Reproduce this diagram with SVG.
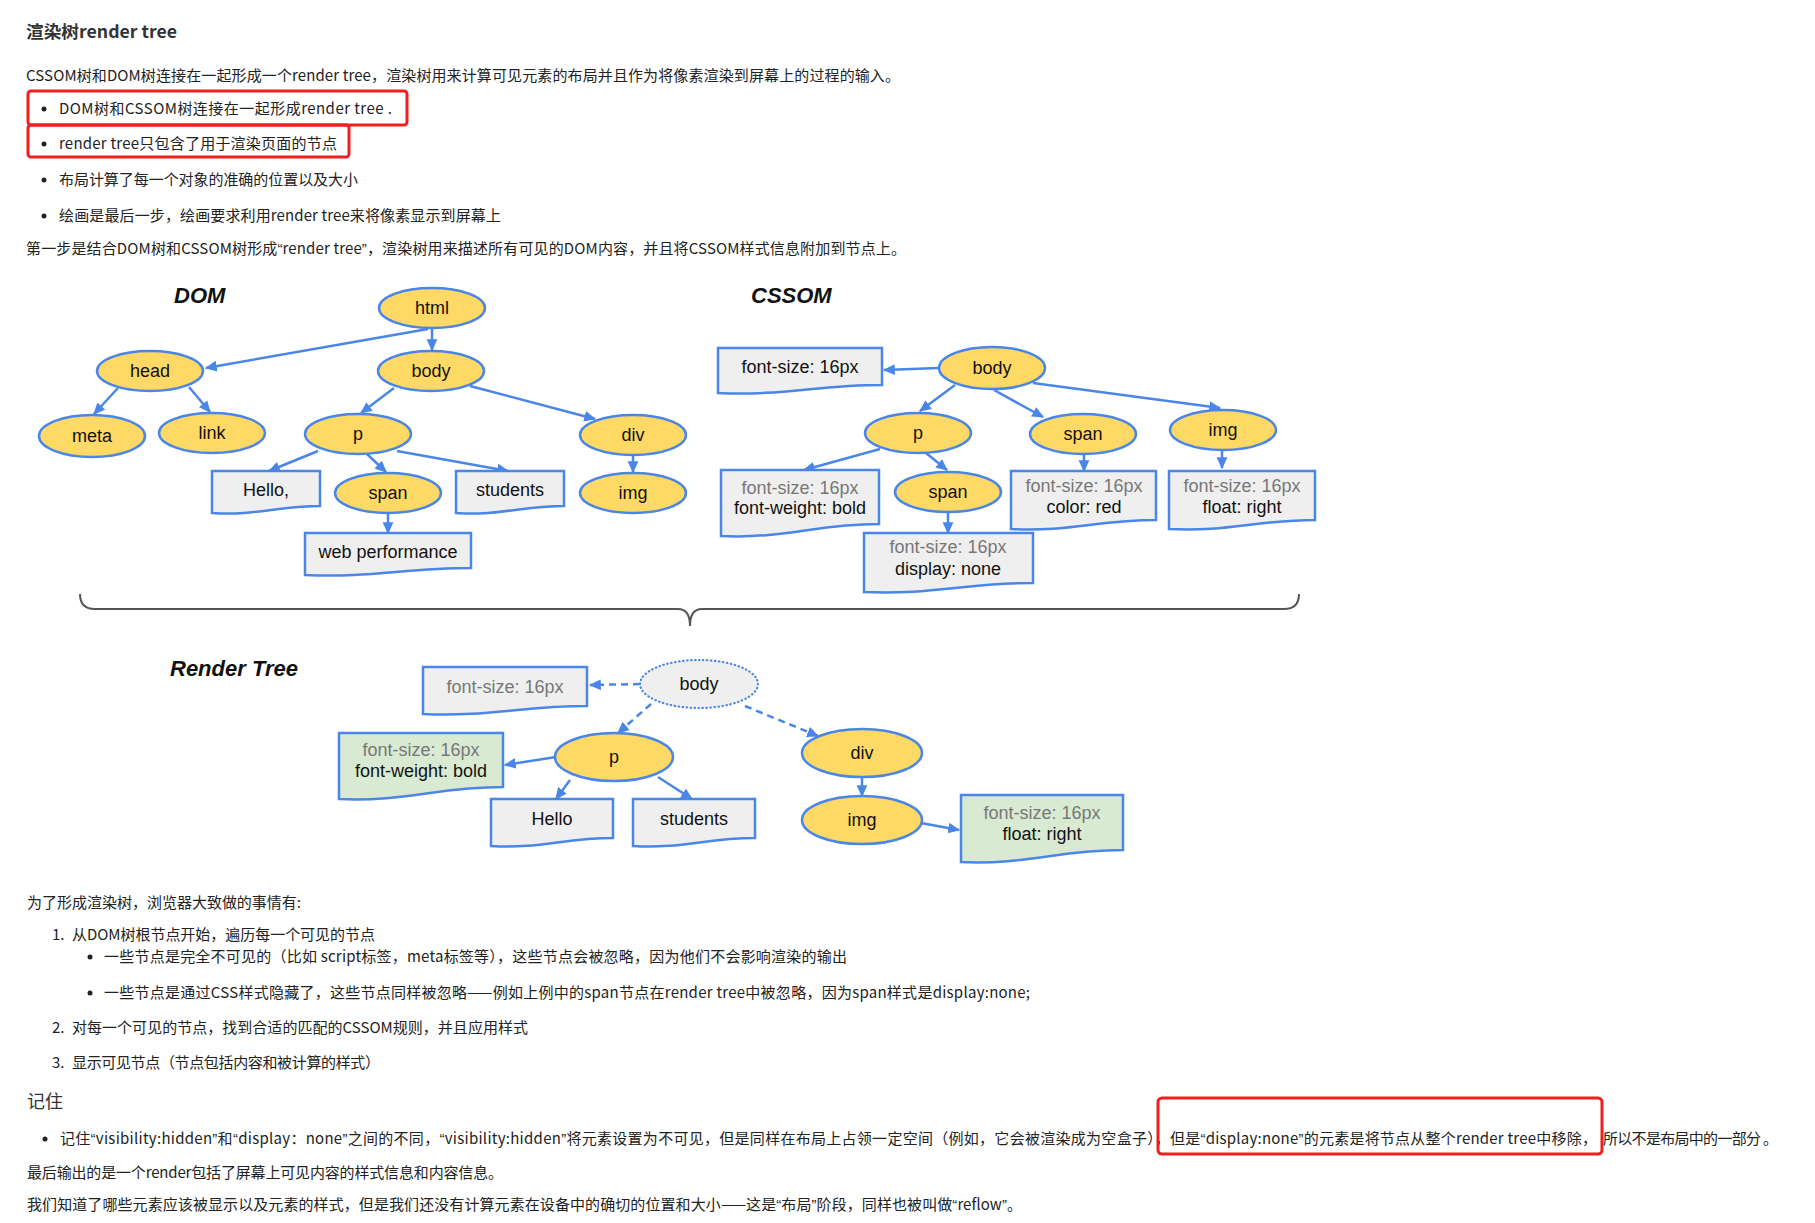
<svg xmlns="http://www.w3.org/2000/svg" width="1815" height="1223" viewBox="0 0 1815 1223">
<style>
.t{font-family:"Noto Sans CJK SC","Liberation Sans",sans-serif;font-size:15px;fill:#222}
.q{font-family:"Liberation Sans",sans-serif}
.h{font-family:"Noto Sans CJK SC",sans-serif;font-size:17px;font-weight:bold;fill:#333}
.h2{font-family:"Noto Sans CJK SC",sans-serif;font-size:18px;fill:#333}
.lbl{font-family:"Liberation Sans",Arial,sans-serif;font-size:18px;fill:#111;text-anchor:middle}
.g{fill:#777}
.ttl{font-family:"Liberation Sans",Arial,sans-serif;font-size:22px;font-weight:bold;font-style:italic;fill:#111}
.ell{fill:#ffd966;stroke:#4a86e8;stroke-width:2.5}
.dot{fill:#efefef;stroke:#4a86e8;stroke-width:2.2;stroke-dasharray:0.5,3.5;stroke-linecap:round}
.doc{fill:#efefef;stroke:#4a86e8;stroke-width:2.5}
.docg{fill:#d9ead3;stroke:#4a86e8;stroke-width:2.5}
.e{stroke:#4a86e8;stroke-width:2.5;fill:none;marker-end:url(#ah)}
.d{stroke-dasharray:7,5}
.red{fill:none;stroke:#ee1f1f;stroke-width:3}
.bul{fill:#222}
</style>
<defs>
<marker id="ah" viewBox="0 0 10 10" refX="9" refY="5" markerWidth="12" markerHeight="12" markerUnits="userSpaceOnUse" orient="auto"><path d="M0,0.5 L10,5 L0,9.5 z" fill="#4a86e8"/></marker>
</defs>
<rect width="1815" height="1223" fill="#fff"/>

<g id="text-top">
<text class="h" x="26" y="38" textLength="151" lengthAdjust="spacingAndGlyphs">渲染树render tree</text>
<text class="t" x="26" y="81" textLength="874">CSSOM树和DOM树连接在一起形成一个render tree，渲染树用来计算可见元素的布局并且作为将像素渲染到屏幕上的过程的输入。</text>
<circle class="bul" cx="44" cy="109" r="2.5"/>
<text class="t" x="59" y="114" textLength="333">DOM树和CSSOM树连接在一起形成render tree .</text>
<circle class="bul" cx="44" cy="144" r="2.5"/>
<text class="t" x="59" y="149" textLength="278">render tree只包含了用于渲染页面的节点</text>
<circle class="bul" cx="44" cy="180" r="2.5"/>
<text class="t" x="59" y="185" textLength="299">布局计算了每一个对象的准确的位置以及大小</text>
<circle class="bul" cx="44" cy="216" r="2.5"/>
<text class="t" x="59" y="221" textLength="442">绘画是最后一步，绘画要求利用render tree来将像素显示到屏幕上</text>
<text class="t" x="26" y="254" textLength="880">第一步是结合DOM树和CSSOM树形成<tspan class="q">“</tspan>render tree<tspan class="q">”</tspan>，渲染树用来描述所有可见的DOM内容，并且将CSSOM样式信息附加到节点上。</text>
<rect class="red" x="28" y="91" width="379" height="34" rx="3"/>
<rect class="red" x="28" y="125" width="321" height="32" rx="3"/>
</g>

<g id="labels">
<text class="ttl" x="174" y="303">DOM</text>
<text class="ttl" x="751" y="303">CSSOM</text>
<text class="ttl" x="170" y="676">Render Tree</text>
</g>

<g id="connectors">
<path class="e" d="M428,329 L206,368"/>
<path class="e" d="M432,329 L432,350"/>
<path class="e" d="M118,388 L94,414"/>
<path class="e" d="M189,387 L210,412"/>
<path class="e" d="M394,388 L361,413"/>
<path class="e" d="M470,386 L595,419"/>
<path class="e" d="M318,451 L269,471"/>
<path class="e" d="M367,454 L386,472"/>
<path class="e" d="M397,451 L508,471"/>
<path class="e" d="M633,456 L633,472"/>
<path class="e" d="M388,514 L388,533"/>
<path class="e" d="M939,368 L884,370"/>
<path class="e" d="M955,385 L920,411"/>
<path class="e" d="M994,390 L1043,417"/>
<path class="e" d="M1033,383 L1220,408"/>
<path class="e" d="M880,449 L804,470"/>
<path class="e" d="M926,453 L947,470"/>
<path class="e" d="M1084,455 L1084,471"/>
<path class="e" d="M1222,451 L1222,468"/>
<path class="e" d="M948,513 L948,533"/>
<path class="e d" d="M640,684 L590,685"/>
<path class="e d" d="M651,704 L618,733"/>
<path class="e d" d="M745,706 L818,736"/>
<path class="e" d="M556,757 L505,765"/>
<path class="e" d="M570,780 L556,799"/>
<path class="e" d="M658,777 L692,799"/>
<path class="e" d="M862,777 L862,796"/>
<path class="e" d="M921,823 L959,830"/>
<path d="M80,594 Q80,609 95,609 H678 Q690,609 690,626 Q690,609 702,609 H1284 Q1299,609 1299,594" fill="none" stroke="#555" stroke-width="2"/>
</g>

<g id="dom-html"><ellipse class="ell" cx="432" cy="308" rx="53" ry="20"/><text class="lbl" x="432" y="314">html</text></g>
<g id="dom-head"><ellipse class="ell" cx="150" cy="371" rx="53" ry="20"/><text class="lbl" x="150" y="377">head</text></g>
<g id="dom-body"><ellipse class="ell" cx="431" cy="371" rx="53" ry="20"/><text class="lbl" x="431" y="377">body</text></g>
<g id="dom-meta"><ellipse class="ell" cx="92" cy="436" rx="53" ry="21"/><text class="lbl" x="92" y="442">meta</text></g>
<g id="dom-link"><ellipse class="ell" cx="212" cy="433" rx="53" ry="20"/><text class="lbl" x="212" y="439">link</text></g>
<g id="dom-p"><ellipse class="ell" cx="358" cy="434" rx="53" ry="20"/><text class="lbl" x="358" y="440">p</text></g>
<g id="dom-div"><ellipse class="ell" cx="633" cy="435" rx="53" ry="20"/><text class="lbl" x="633" y="441">div</text></g>
<g id="dom-span"><ellipse class="ell" cx="388" cy="493" rx="53" ry="20"/><text class="lbl" x="388" y="499">span</text></g>
<g id="dom-img"><ellipse class="ell" cx="633" cy="493" rx="53" ry="20"/><text class="lbl" x="633" y="499">img</text></g>
<g id="dom-hello"><path class="doc" d="M212,471 H320 V506 C277,506 255,516 212,513 Z"/><text class="lbl" x="266" y="496">Hello,</text></g>
<g id="dom-students"><path class="doc" d="M456,471 H564 V506 C521,506 499,516 456,513 Z"/><text class="lbl" x="510" y="496">students</text></g>
<g id="dom-webperf"><path class="doc" d="M305,533 H471 V568 C405,568 371,578 305,575 Z"/><text class="lbl" x="388" y="558">web performance</text></g>

<g id="css-fs"><path class="doc" d="M718,348 H882 V385 C817,385 783,396 718,393 Z"/><text class="lbl" x="800" y="373">font-size: 16px</text></g>
<g id="css-body"><ellipse class="ell" cx="992" cy="368" rx="53" ry="21"/><text class="lbl" x="992" y="374">body</text></g>
<g id="css-p"><ellipse class="ell" cx="918" cy="433" rx="53" ry="20"/><text class="lbl" x="918" y="439">p</text></g>
<g id="css-span"><ellipse class="ell" cx="1083" cy="434" rx="53" ry="20"/><text class="lbl" x="1083" y="440">span</text></g>
<g id="css-img"><ellipse class="ell" cx="1223" cy="430" rx="53" ry="20"/><text class="lbl" x="1223" y="436">img</text></g>
<g id="css-fw"><path class="doc" d="M721,470 H879 V524 C816,524 784,539 721,536 Z"/><text class="lbl g" x="800" y="494">font-size: 16px</text><text class="lbl" x="800" y="514">font-weight: bold</text></g>
<g id="css-span2"><ellipse class="ell" cx="948" cy="492" rx="53" ry="20"/><text class="lbl" x="948" y="498">span</text></g>
<g id="css-color"><path class="doc" d="M1011,471 H1156 V520 C1098,520 1069,532 1011,529 Z"/><text class="lbl g" x="1084" y="492">font-size: 16px</text><text class="lbl" x="1084" y="513">color: red</text></g>
<g id="css-float"><path class="doc" d="M1169,471 H1315 V520 C1257,520 1227,532 1169,529 Z"/><text class="lbl g" x="1242" y="492">font-size: 16px</text><text class="lbl" x="1242" y="513">float: right</text></g>
<g id="css-display"><path class="doc" d="M864,533 H1033 V583 C965,583 932,595 864,592 Z"/><text class="lbl g" x="948" y="553">font-size: 16px</text><text class="lbl" x="948" y="575">display: none</text></g>

<g id="rt-fs"><path class="doc" d="M423,667 H587 V706 C521,706 489,717 423,714 Z"/><text class="lbl g" x="505" y="693">font-size: 16px</text></g>
<g id="rt-body"><ellipse class="dot" cx="699" cy="684" rx="59" ry="24"/><text class="lbl" x="699" y="690">body</text></g>
<g id="rt-fw"><path class="docg" d="M339,733 H503 V787 C437,787 405,802 339,799 Z"/><text class="lbl g" x="421" y="756">font-size: 16px</text><text class="lbl" x="421" y="777">font-weight: bold</text></g>
<g id="rt-p"><ellipse class="ell" cx="614" cy="757" rx="59" ry="24"/><text class="lbl" x="614" y="763">p</text></g>
<g id="rt-div"><ellipse class="ell" cx="862" cy="753" rx="60" ry="24"/><text class="lbl" x="862" y="759">div</text></g>
<g id="rt-img"><ellipse class="ell" cx="862" cy="820" rx="60" ry="24"/><text class="lbl" x="862" y="826">img</text></g>
<g id="rt-hello"><path class="doc" d="M491,799 H613 V838 C564,838 540,849 491,846 Z"/><text class="lbl" x="552" y="825">Hello</text></g>
<g id="rt-students"><path class="doc" d="M633,799 H755 V838 C706,838 682,849 633,846 Z"/><text class="lbl" x="694" y="825">students</text></g>
<g id="rt-float"><path class="docg" d="M961,795 H1123 V850 C1058,850 1026,865 961,862 Z"/><text class="lbl g" x="1042" y="819">font-size: 16px</text><text class="lbl" x="1042" y="840">float: right</text></g>

<g id="text-bottom">
<text class="t" x="27" y="908" textLength="274">为了形成渲染树，浏览器大致做的事情有:</text>
<text class="t" x="52" y="940">1.</text>
<text class="t" x="72" y="940" textLength="303">从DOM树根节点开始，遍历每一个可见的节点</text>
<circle class="bul" cx="90" cy="957" r="2.5"/>
<text class="t" x="104" y="962" textLength="743">一些节点是完全不可见的（比如 script标签，meta标签等），这些节点会被忽略，因为他们不会影响渲染的输出</text>
<circle class="bul" cx="90" cy="993" r="2.5"/>
<text class="t" x="104" y="998" textLength="926">一些节点是通过CSS样式隐藏了，这些节点同样被忽略——例如上例中的span节点在render tree中被忽略，因为span样式是display:none;</text>
<text class="t" x="52" y="1033">2.</text>
<text class="t" x="72" y="1033" textLength="456">对每一个可见的节点，找到合适的匹配的CSSOM规则，并且应用样式</text>
<text class="t" x="52" y="1068">3.</text>
<text class="t" x="72" y="1068" textLength="308">显示可见节点（节点包括内容和被计算的样式）</text>
<text class="h2" x="27" y="1108">记住</text>
<circle class="bul" cx="45" cy="1139" r="2.5"/>
<text class="t" x="60" y="1144" textLength="1110">记住<tspan class="q">“</tspan>visibility:hidden<tspan class="q">”</tspan>和<tspan class="q">“</tspan>display：none<tspan class="q">”</tspan>之间的不同，<tspan class="q">“</tspan>visibility:hidden<tspan class="q">”</tspan>将元素设置为不可见，但是同样在布局上占领一定空间（例如，它会被渲染成为空盒子），</text>
<text class="t" x="1170" y="1144" textLength="427">但是<tspan class="q">“</tspan>display:none<tspan class="q">”</tspan>的元素是将节点从整个render tree中移除，</text>
<text class="t" x="1603" y="1144" textLength="175">所以不是布局中的一部分 。</text>
<rect class="red" x="1158" y="1098" width="444" height="56" rx="4"/>
<text class="t" x="27" y="1178" textLength="476">最后输出的是一个render包括了屏幕上可见内容的样式信息和内容信息。</text>
<text class="t" x="27" y="1210" textLength="995">我们知道了哪些元素应该被显示以及元素的样式，但是我们还没有计算元素在设备中的确切的位置和大小——这是<tspan class="q">“</tspan>布局<tspan class="q">”</tspan>阶段，同样也被叫做<tspan class="q">“</tspan>reflow<tspan class="q">”</tspan>。</text>
</g>
</svg>
